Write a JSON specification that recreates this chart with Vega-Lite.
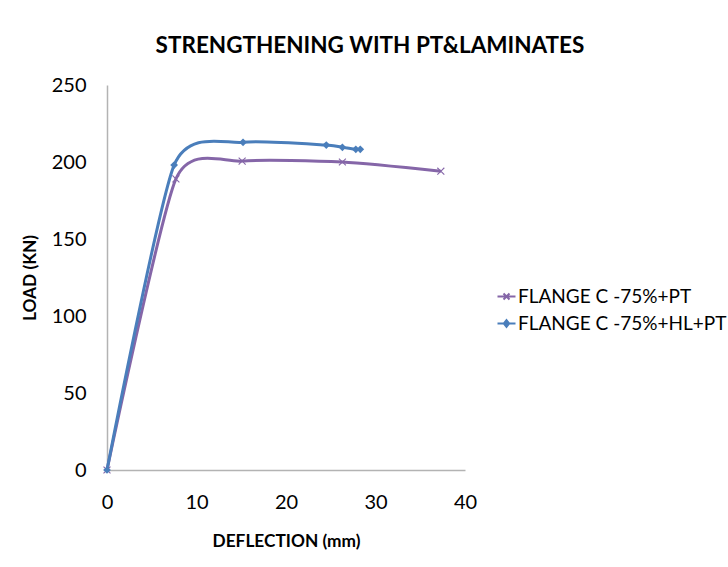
{
  "$schema": "https://vega.github.io/schema/vega-lite/v6.json",
  "width": 358,
  "height": 385,
  "autosize": "none",
  "padding": {"left": 107, "top": 85, "right": 263, "bottom": 97},
  "background": "white",
  "title": {
    "text": "STRENGTHENING WITH PT&LAMINATES",
    "anchor": "middle",
    "frame": "group",
    "dx": 84,
    "offset": 18,
    "font": "Lato",
    "fontSize": 22.5,
    "fontWeight": "bold",
    "color": "#000000"
  },
  "config": {
    "view": {"stroke": null},
    "font": "Lato",
    "axis": {
      "domainColor": "#b3b3b3",
      "domainWidth": 1.5,
      "ticks": false,
      "grid": false,
      "labelFont": "Lato",
      "labelFontSize": 20,
      "labelColor": "#000000",
      "titleFont": "Lato",
      "titleFontSize": 17.3,
      "titleFontWeight": "bold",
      "titleColor": "#000000"
    }
  },
  "data": {
    "values": [
      {"series": "FLANGE C -75%+PT", "deflection": 0, "load": 0},
      {"series": "FLANGE C -75%+PT", "deflection": 7.7, "load": 189},
      {"series": "FLANGE C -75%+PT", "deflection": 15.1, "load": 200.6},
      {"series": "FLANGE C -75%+PT", "deflection": 26.3, "load": 200},
      {"series": "FLANGE C -75%+PT", "deflection": 37.3, "load": 194},
      {"series": "FLANGE C -75%+HL+PT", "deflection": 0, "load": 0},
      {"series": "FLANGE C -75%+HL+PT", "deflection": 7.5, "load": 198},
      {"series": "FLANGE C -75%+HL+PT", "deflection": 15.2, "load": 212.8},
      {"series": "FLANGE C -75%+HL+PT", "deflection": 24.5, "load": 211},
      {"series": "FLANGE C -75%+HL+PT", "deflection": 26.3, "load": 209.5},
      {"series": "FLANGE C -75%+HL+PT", "deflection": 27.8, "load": 208.2},
      {"series": "FLANGE C -75%+HL+PT", "deflection": 28.3, "load": 208.2}
    ]
  },
  "encoding": {
    "x": {
      "field": "deflection",
      "type": "quantitative",
      "title": "DEFLECTION (mm)",
      "scale": {"domain": [0, 40], "nice": false, "zero": true},
      "axis": {"values": [0, 10, 20, 30, 40], "labelPadding": 22, "titlePadding": 20, "labelFlush": false}
    },
    "y": {
      "field": "load",
      "type": "quantitative",
      "title": "LOAD (KN)",
      "scale": {"domain": [0, 250], "nice": false},
      "axis": {"values": [0, 50, 100, 150, 200, 250], "labelPadding": 21, "titlePadding": 12, "labelFlush": false}
    },
    "color": {
      "field": "series",
      "type": "nominal",
      "sort": ["FLANGE C -75%+PT", "FLANGE C -75%+HL+PT"],
      "scale": {"domain": ["FLANGE C -75%+PT", "FLANGE C -75%+HL+PT"], "range": ["#8566a8", "#4a7ebb"]},
      "legend": {
        "title": null,
        "orient": "none",
        "legendX": 390,
        "legendY": 202,
        "labelFont": "Lato",
        "labelFontSize": 19,
        "labelLimit": 400,
        "labelColor": "#000000",
        "symbolSize": 144,
        "labelOffset": 2,
        "rowPadding": 7,
        "encode": {
          "symbols": {
            "update": {
              "shape": {"signal": "datum.value == 'FLANGE C -75%+PT' ? 'M-1.5,0H1.5M-0.5,-0.5L0.5,0.5M0.5,-0.5L-0.5,0.5' : 'M-1.5,0H1.5M0,-0.55L0.45,0L0,0.55L-0.45,0Z'"},
              "strokeWidth": {"value": 2},
              "stroke": {"scale": "color", "field": "value"},
              "fill": {"scale": "color", "field": "value"},
              "fillOpacity": {"value": 1},
              "opacity": {"value": 1}
            }
          }
        }
      }
    }
  },
  "layer": [
    {
      "mark": {"type": "line", "interpolate": "cardinal", "tension": 0.35, "strokeWidth": 3}
    },
    {
      "transform": [{"filter": "datum.series == 'FLANGE C -75%+PT'"}],
      "mark": {"type": "point", "filled": true, "size": 60, "opacity": 1, "shape": "M-1,-0.8L-0.8,-1L0,-0.2L0.8,-1L1,-0.8L0.2,0L1,0.8L0.8,1L0,0.2L-0.8,1L-1,0.8L-0.2,0Z"}
    },
    {
      "transform": [{"filter": "datum.series == 'FLANGE C -75%+HL+PT'"}],
      "mark": {"type": "point", "filled": true, "size": 60, "opacity": 1, "shape": "diamond"}
    }
  ]
}
